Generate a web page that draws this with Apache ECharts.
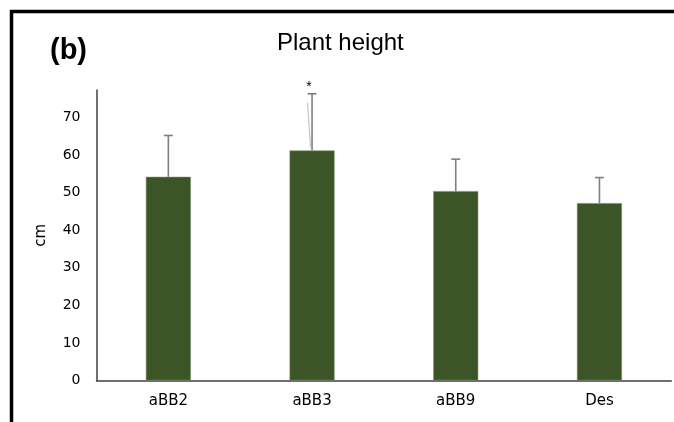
<!DOCTYPE html>
<html>
<head>
<meta charset="utf-8">
<script src="https://cdn.jsdelivr.net/npm/echarts@6/dist/echarts.min.js"></script>
<style>
  html, body { margin: 0; padding: 0; background: #fff; }
  #chart { width: 674px; height: 422px; }
</style>
</head>
<body>
<div id="chart"></div>
<script>
// Plant height per line (mean ± SD)
const categories = ['aBB2', 'aBB3', 'aBB9', 'Des'];
const meanHeight = [54.2, 61.2, 50.4, 47.2];
const sdHeight = [11.0, 15.1, 8.5, 6.8];
const significance = ['', '*', '', ''];
const yTicks = [0, 10, 20, 30, 40, 50, 60, 70];

const FONT = '"Liberation Sans", Arial, sans-serif';
const LABEL_FONT = '"DejaVu Sans", sans-serif';
const chart = echarts.init(document.getElementById('chart'), null, { renderer: 'canvas' });

const errorData = categories.map((c, i) => [i, meanHeight[i], meanHeight[i] + sdHeight[i], significance[i]]);

function renderError(params, api) {
  const i = api.value(0);
  const base = api.coord([i, api.value(1)]);
  const top = api.coord([i, api.value(2)]);
  const cap = 4.5;
  const style = { stroke: '#7f7f7f', lineWidth: 1.6 };
  const children = [
    { type: 'line', shape: { x1: base[0], y1: base[1], x2: top[0], y2: top[1] }, style },
    { type: 'line', shape: { x1: top[0] - cap, y1: top[1], x2: top[0] + cap, y2: top[1] }, style }
  ];
  const mark = api.value(3);
  if (mark) {
    children.push({
      type: 'text',
      style: { text: mark, x: top[0] - 3, y: top[1], align: 'center', verticalAlign: 'bottom',
               fontSize: 14, fontFamily: FONT, fill: '#000' }
    });
    // faint stroke beside the whisker
    children.push({
      type: 'line',
      shape: { x1: top[0] - 4.5, y1: top[1] + 9, x2: top[0] - 1.5, y2: base[1] - 3 },
      style: { stroke: '#c4c4c4', lineWidth: 1.2 }
    });
  }
  return { type: 'group', children };
}

chart.setOption({
  animation: false,
  backgroundColor: '#fff',
  grid: { left: 96.5, right: 2.7, top: 90, bottom: 41.5, containLabel: false },
  graphic: [
    { type: 'polyline', shape: { points: [[11.5, 422], [11.5, 11.5], [674, 11.5]] },
      style: { stroke: '#000', lineWidth: 3.5, fill: null } },
    { type: 'text', left: 50, top: 36,
      style: { text: '(b)', fontSize: 29, fontWeight: 'bold', fontFamily: FONT, fill: '#000' } },
    { type: 'text', left: 277, top: 31,
      style: { text: 'Plant height', fontSize: 24, fontFamily: FONT, fill: '#000' } }
  ],
  xAxis: {
    type: 'category',
    data: categories,
    axisLine: { lineStyle: { color: '#404040', width: 1.5 } },
    axisTick: { show: false },
    axisLabel: { color: '#000', fontSize: 15, fontFamily: LABEL_FONT, margin: 13 }
  },
  yAxis: {
    type: 'value',
    min: 0,
    max: 77.3,
    interval: 10,
    name: 'cm',
    nameLocation: 'middle',
    nameGap: 48,
    nameRotate: 90,
    nameTextStyle: { color: '#000', fontSize: 15, fontFamily: LABEL_FONT },
    axisLine: { show: true, lineStyle: { color: '#404040', width: 1.5 } },
    axisTick: { show: false },
    splitLine: { show: false },
    axisLabel: {
      color: '#000', fontSize: 14, fontFamily: LABEL_FONT, margin: 16,
      formatter: v => (yTicks.indexOf(v) >= 0 ? String(v) : '')
    }
  },
  series: [
    {
      type: 'bar',
      data: meanHeight,
      barWidth: 45,
      itemStyle: { color: '#3b5526', borderColor: '#7a8c6c', borderWidth: 0.6 }
    },
    {
      type: 'custom',
      data: errorData,
      renderItem: renderError,
      encode: { x: 0, y: [1, 2] },
      z: 3
    }
  ]
});
</script>
</body>
</html>
